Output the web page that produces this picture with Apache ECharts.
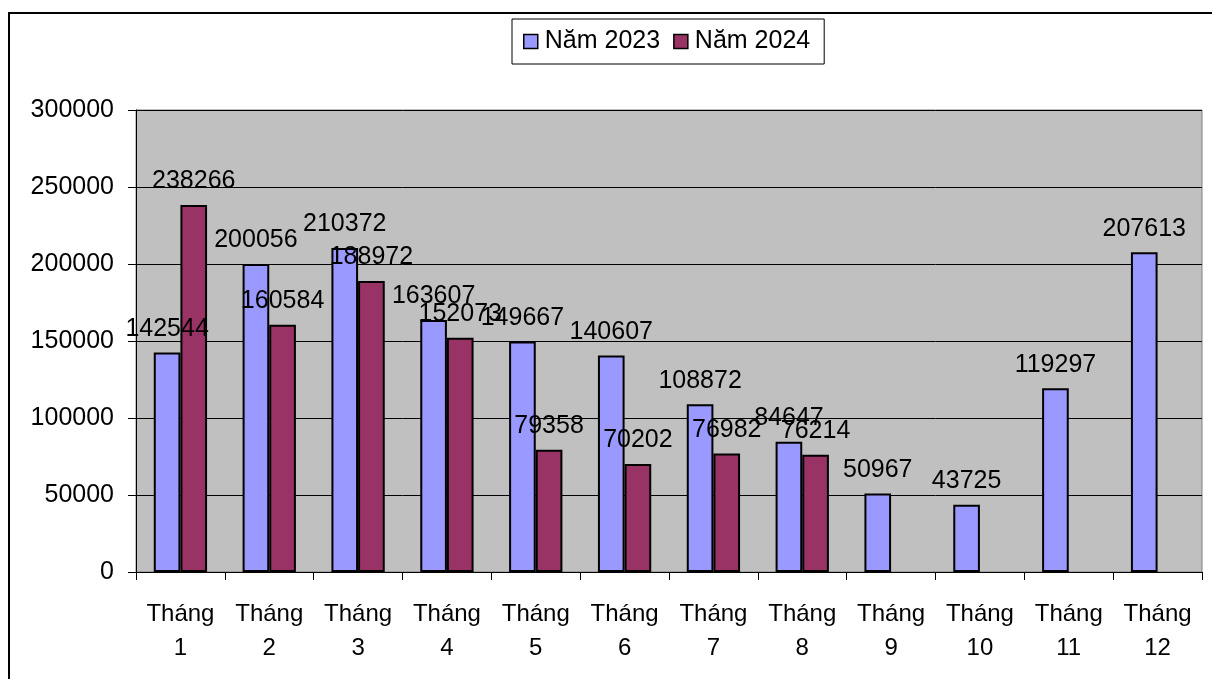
<!DOCTYPE html>
<html>
<head>
<meta charset="utf-8">
<script src="https://cdn.jsdelivr.net/npm/echarts@6/dist/echarts.min.js"></script>
<style>
  html, body { margin: 0; padding: 0; background: #fff; }
  #chart { width: 1212px; height: 679px; }
</style>
</head>
<body>
<div id="chart"></div>
<script>
// Monthly figures for 2023 and 2024
const months = ['Tháng\n1', 'Tháng\n2', 'Tháng\n3', 'Tháng\n4', 'Tháng\n5', 'Tháng\n6',
                'Tháng\n7', 'Tháng\n8', 'Tháng\n9', 'Tháng\n10', 'Tháng\n11', 'Tháng\n12'];
const values2023 = [142544, 200056, 210372, 163607, 149667, 140607, 108872, 84647, 50967, 43725, 119297, 207613];
const values2024 = [238266, 160584, 188972, 152073, 79358, 70202, 76982, 76214, null, null, null, null];
const seriesNames = ['Năm 2023', 'Năm 2024'];

const FONT = '"Liberation Sans", Arial, sans-serif';
const chart = echarts.init(document.getElementById('chart'));

const labelStyle = {
  show: true,
  position: 'top',
  distance: 11,
  color: '#000',
  fontSize: 25,
  fontFamily: FONT
};

chart.setOption({
  animation: false,
  backgroundColor: '#fff',
  textStyle: { fontFamily: FONT },
  graphic: [{
    type: 'rect',
    shape: { x: 9, y: 13, width: 1400, height: 900 },
    style: { fill: 'none', stroke: '#000', lineWidth: 2 },
    z: 100
  }],
  legend: {
    data: seriesNames,
    left: 512,
    top: 19,
    orient: 'horizontal',
    icon: 'rect',
    itemWidth: 14,
    itemHeight: 14,
    itemGap: 13,
    padding: [10, 14, 10, 11],
    backgroundColor: '#fff',
    borderColor: '#000',
    borderWidth: 1,
    itemStyle: { borderColor: '#000', borderWidth: 1.5 },
    textStyle: { fontSize: 25, color: '#000', fontFamily: FONT, padding: [0, 0, 0, 2] }
  },
  grid: {
    left: 136,
    right: 10,
    top: 110,
    bottom: 107,
    show: true,
    backgroundColor: '#C0C0C0',
    borderColor: '#808080',
    borderWidth: 1
  },
  xAxis: {
    type: 'category',
    data: months,
    axisLine: { lineStyle: { color: '#000', width: 1 } },
    axisTick: { show: true, length: 8, lineStyle: { color: '#000' } },
    axisLabel: {
      color: '#000',
      fontSize: 24,
      fontFamily: FONT,
      lineHeight: 34,
      margin: 25,
      interval: 0
    }
  },
  yAxis: {
    type: 'value',
    min: 0,
    max: 300000,
    interval: 50000,
    axisLine: { show: true, lineStyle: { color: '#000', width: 1 } },
    axisTick: { show: true, length: 8, lineStyle: { color: '#000' } },
    axisLabel: {
      color: '#000',
      fontSize: 25,
      fontFamily: FONT,
      margin: 22,
      formatter: v => String(v)
    },
    splitLine: { lineStyle: { color: '#000', width: 1 } }
  },
  series: [
    {
      name: seriesNames[0],
      type: 'bar',
      data: values2023,
      barGap: '0%',
      barCategoryGap: '40%',
      itemStyle: { color: '#9999FF', borderColor: '#000', borderWidth: 2 },
      label: labelStyle
    },
    {
      name: seriesNames[1],
      type: 'bar',
      data: values2024,
      itemStyle: { color: '#993366', borderColor: '#000', borderWidth: 2 },
      label: labelStyle
    }
  ]
});
</script>
</body>
</html>
